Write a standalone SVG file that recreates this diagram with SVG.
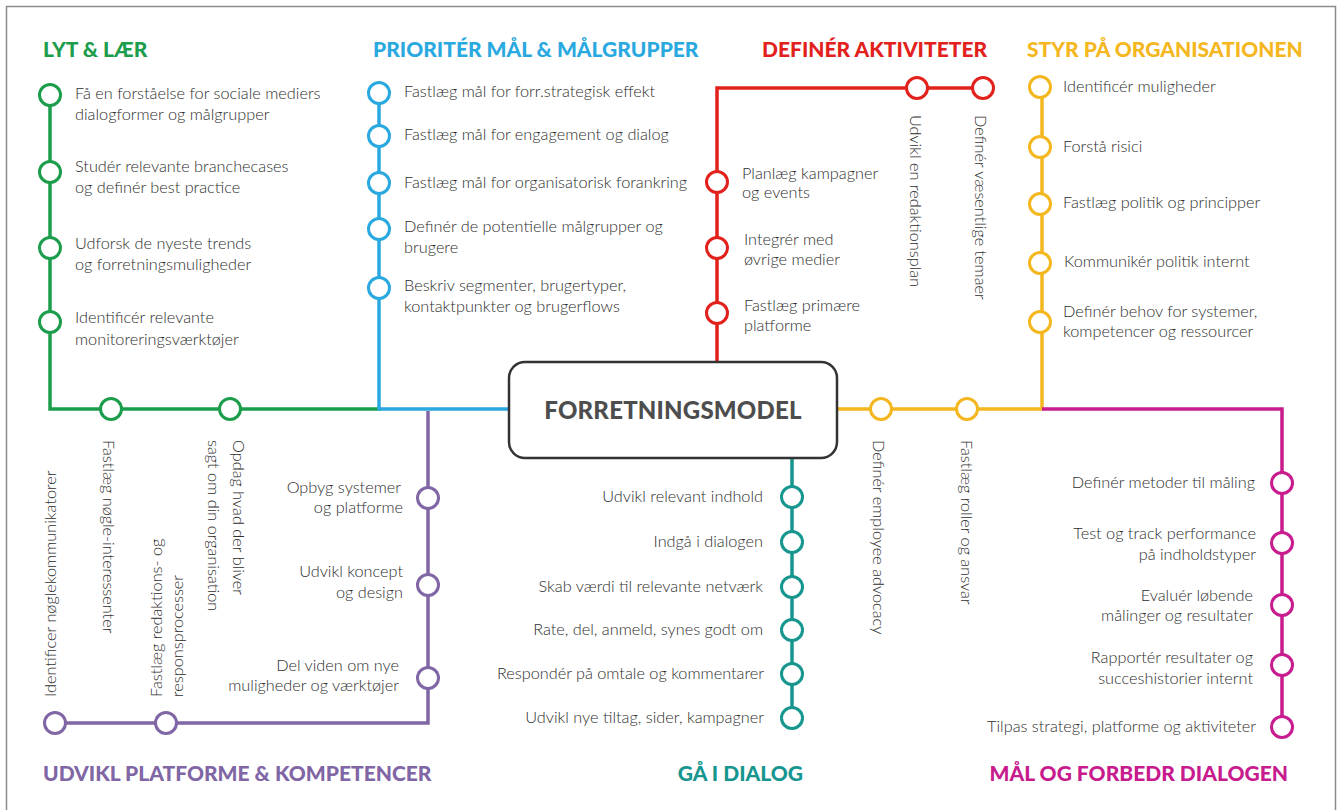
<svg xmlns="http://www.w3.org/2000/svg" width="1341" height="810" viewBox="0 0 1341 810">
  <style>
    .frame { fill: #fff; stroke: #8c8c8c; stroke-width: 1.5; }
    .ln { fill: none; stroke-width: 3.5; stroke-linejoin: miter; stroke-linecap: butt; }
    .st { fill: #fff; stroke-width: 3; }
    .t { font-family: Lato, "Open Sans", "Liberation Sans", sans-serif; font-size: 16.3px; font-weight: 300; fill: #2e2e2e; }
    .r { text-anchor: end; }
    .ttl { font-family: Lato, "Open Sans", "Liberation Sans", sans-serif; font-size: 21px; font-weight: 900; }
    .green { stroke: #1c9d4c; } .greenf { fill: #1c9d4c; }
    .blue { stroke: #2aa9e0; } .bluef { fill: #2aa9e0; }
    .red { stroke: #e2211c; } .redf { fill: #e2211c; }
    .yellow { stroke: #f4b720; } .yellowf { fill: #f4b720; }
    .purple { stroke: #8066a4; } .purplef { fill: #8066a4; }
    .teal { stroke: #16968f; } .tealf { fill: #16968f; }
    .magenta { stroke: #c81b8d; } .magentaf { fill: #c81b8d; }
    .hub { fill: #fff; stroke: #333; stroke-width: 2.5; }
    .hubt { font-family: Lato, "Open Sans", "Liberation Sans", sans-serif; font-size: 24px; font-weight: 900; fill: #4d4d4d; text-anchor: middle; letter-spacing: 0.2px; }
  </style>

  <rect class="frame" x="6.5" y="6.5" width="1329" height="830"/>

  <!-- route lines -->
  <g id="connectors">
    <path class="ln green" d="M50 95 V409 H381"/>
    <path class="ln blue" d="M379 93 V409 H510"/>
    <path class="ln red" d="M717 362 V88 H983"/>
    <path class="ln yellow" d="M835 409 H1042 V87"/>
    <path class="ln magenta" d="M1042 409 H1282 V727"/>
    <path class="ln purple" d="M428 411 V723 H55"/>
    <path class="ln teal" d="M792 458 V718"/>
  </g>

  <!-- hub -->
  <g id="hub">
    <rect class="hub" x="509" y="362" width="328" height="96" rx="16"/>
    <text class="hubt" x="673" y="419">FORRETNINGSMODEL</text>
  </g>

  <!-- line titles -->
  <g id="title-lyt"><text class="ttl greenf" x="43" y="57">LYT &amp; LÆR</text></g>
  <g id="title-prioriter"><text class="ttl bluef" x="373" y="57">PRIORITÉR MÅL &amp; MÅLGRUPPER</text></g>
  <g id="title-aktiviteter"><text class="ttl redf" x="762" y="57">DEFINÉR AKTIVITETER</text></g>
  <g id="title-styr"><text class="ttl yellowf" x="1027" y="57">STYR PÅ ORGANISATIONEN</text></g>
  <g id="title-udvikl"><text class="ttl purplef" x="43" y="781">UDVIKL PLATFORME &amp; KOMPETENCER</text></g>
  <g id="title-dialog"><text class="ttl tealf" x="803" y="781" text-anchor="end">GÅ I DIALOG</text></g>
  <g id="title-maal"><text class="ttl magentaf" x="1288" y="781" text-anchor="end">MÅL OG FORBEDR DIALOGEN</text></g>

  <!-- LYT & LÆR stations -->
  <g id="g1"><circle class="st green" cx="50" cy="95" r="10.5"/>
    <text class="t" x="75" y="99">Få en forståelse for sociale mediers</text>
    <text class="t" x="75" y="120">dialogformer og målgrupper</text></g>
  <g id="g2"><circle class="st green" cx="50" cy="172" r="10.5"/>
    <text class="t" x="75" y="172">Studér relevante branchecases</text>
    <text class="t" x="75" y="193">og definér best practice</text></g>
  <g id="g3"><circle class="st green" cx="50" cy="248" r="10.5"/>
    <text class="t" x="75" y="249">Udforsk de nyeste trends</text>
    <text class="t" x="75" y="270">og forretningsmuligheder</text></g>
  <g id="g4"><circle class="st green" cx="50" cy="322" r="10.5"/>
    <text class="t" x="75" y="323">Identificér relevante</text>
    <text class="t" x="75" y="345">monitoreringsværktøjer</text></g>
  <g id="g5"><circle class="st green" cx="111" cy="409" r="10.5"/>
    <text class="t" transform="translate(103,440) rotate(90)">Fastlæg nøgle-interessenter</text></g>
  <g id="g6"><circle class="st green" cx="230" cy="409" r="10.5"/>
    <text class="t" transform="translate(233,440) rotate(90)">Opdag hvad der bliver</text>
    <text class="t" transform="translate(208,440) rotate(90)">sagt om din organisation</text></g>

  <!-- PRIORITÉR stations -->
  <g id="b1"><circle class="st blue" cx="379" cy="93" r="10.5"/>
    <text class="t" x="404" y="97">Fastlæg mål for forr.strategisk effekt</text></g>
  <g id="b2"><circle class="st blue" cx="379" cy="136" r="10.5"/>
    <text class="t" x="404" y="140">Fastlæg mål for engagement og dialog</text></g>
  <g id="b3"><circle class="st blue" cx="379" cy="183" r="10.5"/>
    <text class="t" x="404" y="188">Fastlæg mål for organisatorisk forankring</text></g>
  <g id="b4"><circle class="st blue" cx="379" cy="229" r="10.5"/>
    <text class="t" x="404" y="232">Definér de potentielle målgrupper og</text>
    <text class="t" x="404" y="253">brugere</text></g>
  <g id="b5"><circle class="st blue" cx="379" cy="288" r="10.5"/>
    <text class="t" x="404" y="291">Beskriv segmenter, brugertyper,</text>
    <text class="t" x="404" y="312">kontaktpunkter og brugerflows</text></g>

  <!-- DEFINÉR AKTIVITETER stations -->
  <g id="r1"><circle class="st red" cx="717" cy="182" r="10.5"/>
    <text class="t" x="742" y="179">Planlæg kampagner</text>
    <text class="t" x="742" y="198">og events</text></g>
  <g id="r2"><circle class="st red" cx="717" cy="248" r="10.5"/>
    <text class="t" x="744" y="245">Integrér med</text>
    <text class="t" x="744" y="265">øvrige medier</text></g>
  <g id="r3"><circle class="st red" cx="717" cy="313" r="10.5"/>
    <text class="t" x="744" y="311">Fastlæg primære</text>
    <text class="t" x="744" y="331">platforme</text></g>
  <g id="r4"><circle class="st red" cx="917" cy="88" r="10.5"/>
    <text class="t" transform="translate(910,115) rotate(90)">Udvikl en redaktionsplan</text></g>
  <g id="r5"><circle class="st red" cx="983" cy="88" r="10.5"/>
    <text class="t" transform="translate(975,115) rotate(90)">Definér væsentlige temaer</text></g>

  <!-- STYR PÅ ORGANISATIONEN stations -->
  <g id="y1"><circle class="st yellow" cx="1040" cy="87" r="10.5"/>
    <text class="t" x="1063" y="92">Identificér muligheder</text></g>
  <g id="y2"><circle class="st yellow" cx="1040" cy="147" r="10.5"/>
    <text class="t" x="1063" y="152">Forstå risici</text></g>
  <g id="y3"><circle class="st yellow" cx="1040" cy="204" r="10.5"/>
    <text class="t" x="1063" y="208">Fastlæg politik og principper</text></g>
  <g id="y4"><circle class="st yellow" cx="1040" cy="263" r="10.5"/>
    <text class="t" x="1064" y="267">Kommunikér politik internt</text></g>
  <g id="y5"><circle class="st yellow" cx="1040" cy="322" r="10.5"/>
    <text class="t" x="1063" y="317">Definér behov for systemer,</text>
    <text class="t" x="1063" y="337">kompetencer og ressourcer</text></g>
  <g id="y6"><circle class="st yellow" cx="881" cy="409" r="10.5"/>
    <text class="t" transform="translate(873,440) rotate(90)">Definér employee advocacy</text></g>
  <g id="y7"><circle class="st yellow" cx="967" cy="409" r="10.5"/>
    <text class="t" transform="translate(961,440) rotate(90)">Fastlæg roller og ansvar</text></g>

  <!-- MÅL OG FORBEDR DIALOGEN stations -->
  <g id="m1"><circle class="st magenta" cx="1282" cy="483" r="10.5"/>
    <text class="t r" x="1255" y="488">Definér metoder til måling</text></g>
  <g id="m2"><circle class="st magenta" cx="1282" cy="543" r="10.5"/>
    <text class="t r" x="1256" y="539">Test og track performance</text>
    <text class="t r" x="1256" y="560">på indholdstyper</text></g>
  <g id="m3"><circle class="st magenta" cx="1282" cy="605" r="10.5"/>
    <text class="t r" x="1253" y="601">Evaluér løbende</text>
    <text class="t r" x="1253" y="621">målinger og resultater</text></g>
  <g id="m4"><circle class="st magenta" cx="1282" cy="665" r="10.5"/>
    <text class="t r" x="1253" y="663">Rapportér resultater og</text>
    <text class="t r" x="1253" y="684">succeshistorier internt</text></g>
  <g id="m5"><circle class="st magenta" cx="1282" cy="727" r="10.5"/>
    <text class="t r" x="1256" y="732">Tilpas strategi, platforme og aktiviteter</text></g>

  <!-- GÅ I DIALOG stations -->
  <g id="d1"><circle class="st teal" cx="792" cy="497" r="10.5"/>
    <text class="t r" x="763" y="502">Udvikl relevant indhold</text></g>
  <g id="d2"><circle class="st teal" cx="792" cy="542" r="10.5"/>
    <text class="t r" x="763" y="547">Indgå i dialogen</text></g>
  <g id="d3"><circle class="st teal" cx="792" cy="587" r="10.5"/>
    <text class="t r" x="763" y="592">Skab værdi til relevante netværk</text></g>
  <g id="d4"><circle class="st teal" cx="792" cy="630" r="10.5"/>
    <text class="t r" x="763" y="635">Rate, del, anmeld, synes godt om</text></g>
  <g id="d5"><circle class="st teal" cx="792" cy="674" r="10.5"/>
    <text class="t r" x="764" y="679">Respondér på omtale og kommentarer</text></g>
  <g id="d6"><circle class="st teal" cx="792" cy="718" r="10.5"/>
    <text class="t r" x="764" y="723">Udvikl nye tiltag, sider, kampagner</text></g>

  <!-- UDVIKL PLATFORME & KOMPETENCER stations -->
  <g id="p1"><circle class="st purple" cx="428" cy="498" r="10.5"/>
    <text class="t r" x="401" y="493">Opbyg systemer</text>
    <text class="t r" x="403" y="513">og platforme</text></g>
  <g id="p2"><circle class="st purple" cx="428" cy="585" r="10.5"/>
    <text class="t r" x="403" y="577">Udvikl koncept</text>
    <text class="t r" x="403" y="598">og design</text></g>
  <g id="p3"><circle class="st purple" cx="428" cy="678" r="10.5"/>
    <text class="t r" x="399" y="671">Del viden om nye</text>
    <text class="t r" x="399" y="691">muligheder og værktøjer</text></g>
  <g id="p4"><circle class="st purple" cx="55" cy="723" r="10.5"/>
    <text class="t" transform="translate(56,697) rotate(-90)">Identificer nøglekommunikatorer</text></g>
  <g id="p5"><circle class="st purple" cx="166" cy="723" r="10.5"/>
    <text class="t" transform="translate(162,697) rotate(-90)">Fastlæg redaktions- og</text>
    <text class="t" transform="translate(183,697) rotate(-90)">responsprocesser</text></g>
</svg>
